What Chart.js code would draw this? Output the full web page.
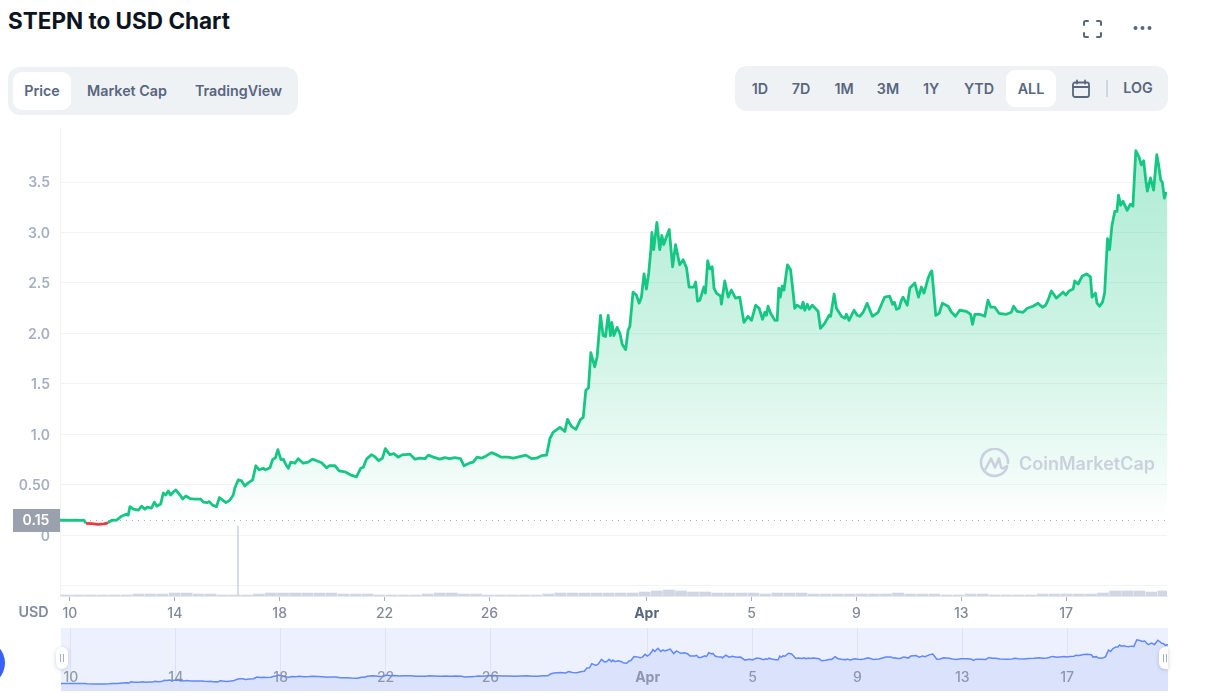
<!DOCTYPE html>
<html>
<head>
<meta charset="utf-8">
<title>STEPN to USD Chart</title>
<script src="https://cdn.jsdelivr.net/npm/chart.js@4/dist/chart.umd.min.js"></script>
<style>
    html, body { margin: 0; padding: 0; background: #fff; width: 1208px; height: 699px; overflow: hidden; }
    body { position: relative; font-family: Inter, "Noto Sans", sans-serif; color: #58667e; }
    .abs { position: absolute; }
    canvas { position: absolute; display: block; }
    h1 { position: absolute; left: 8px; top: 7px; margin: 0; font-size: 22.5px; line-height: 28px; font-weight: 700; color: #0d1421; white-space: nowrap; }
    .group { position: absolute; background: #eff2f5; border-radius: 12px; }
    .pill { position: absolute; background: #fff; border-radius: 9px; }
    .btn { position: absolute; font-size: 14.3px; font-weight: 600; line-height: 20px; transform: translateX(-50%); white-space: nowrap; }
    .mark { position: absolute; left: 1019px; top: 452px; font-size: 18px; line-height: 24px; font-weight: 600; color: #c9d1df; white-space: nowrap; }
    .handle { position: absolute; top: 647px; height: 22px; background: #fff; box-shadow: 0 1px 4px rgba(88,102,126,.3); }
    .handle i { position: absolute; top: 7px; width: 1px; height: 8px; background: #a6b0c3; }
</style>
</head>
<body>
<h1>STEPN to USD Chart</h1>

<svg class="abs" style="left:1082px;top:19px" width="21" height="20" viewBox="0 0 21 20" fill="none" stroke="#58667e" stroke-width="2" stroke-linecap="round" stroke-linejoin="round">
    <path d="M2 6V3.5A1.5 1.5 0 0 1 3.500 2H6M15 2h2.500A1.500 1.500 0 0 1 19 3.500V6M19 14v2.500a1.500 1.500 0 0 1-1.500 1.500H15M6 18H3.500A1.500 1.500 0 0 1 2 16.500V14"/>
</svg>
<svg class="abs" style="left:1132px;top:25px" width="21" height="6" viewBox="0 0 21 6" fill="#58667e">
    <circle cx="3.500" cy="3" r="2"/><circle cx="10.500" cy="3" r="2"/><circle cx="17.500" cy="3" r="2"/>
</svg>

<div class="group" style="left:8px;top:67px;width:290px;height:48px"></div>
<div class="pill" style="left:13px;top:72px;width:58px;height:38px"></div>
<div class="btn" style="left:42px;top:81px">Price</div>
<div class="btn" style="left:127px;top:81px">Market Cap</div>
<div class="btn" style="left:238.500px;top:81px">TradingView</div>

<div class="group" style="left:735px;top:66px;width:433px;height:45px"></div>
<div class="pill" style="left:1006px;top:70px;width:50px;height:37px"></div>
<div class="btn" style="left:760px;top:79px">1D</div>
<div class="btn" style="left:801px;top:79px">7D</div>
<div class="btn" style="left:844px;top:79px">1M</div>
<div class="btn" style="left:888px;top:79px">3M</div>
<div class="btn" style="left:931px;top:79px">1Y</div>
<div class="btn" style="left:979px;top:79px">YTD</div>
<div class="btn" style="left:1031px;top:79px">ALL</div>
<svg class="abs" style="left:1071px;top:79px" width="20" height="20" viewBox="0 0 20 20" fill="none" stroke="#58667e" stroke-width="1.800" stroke-linecap="round">
    <rect x="2" y="3.500" width="16" height="14.500" rx="2"/><path d="M2 8h16M6 1.500v3M14 1.500v3"/>
</svg>
<div class="abs" style="left:1106px;top:80px;width:2px;height:17px;background:#cfd6e4"></div>
<div class="btn" style="left:1138px;top:78px">LOG</div>

<canvas id="priceChart" width="1208" height="504" style="left:0;top:120px;width:1208px;height:504px"></canvas>

<svg class="abs" style="left:979px;top:448px" width="31" height="31" viewBox="0 0 31 31" fill="none" stroke="#c9d1df" stroke-width="2.600" stroke-linecap="round" stroke-linejoin="round">
    <path d="M28 19.500A13.500 13.500 0 1 1 29 15"/>
    <path d="M6.500 21 12 10.500l4 9 4-9 2 8.500q.5 2 3 1l3-2"/>
</svg>
<div class="mark">CoinMarketCap</div>

<div class="btn" style="left:33.500px;top:602px;color:#808a9d">USD</div>

<canvas id="overviewChart" width="1107" height="63" style="left:61px;top:628px;width:1107px;height:63px;background:#edf1fe"></canvas>
<div class="handle" style="left:56px;width:12px;border-radius:6px"><i style="left:4px"></i><i style="left:7px"></i></div>
<div class="handle" style="left:1159px;width:9px;border-radius:6px 0 0 6px"><i style="left:4px"></i><i style="left:7px"></i></div>
<div class="abs" style="left:-41px;top:640px;width:46px;height:46px;border-radius:50%;background:#3861fb"></div>

<script>
    // x is days counted from 10 March
    const days = [
        -0.38, -0.19, 0, 0.19, 0.38, 0.53, 0.61, 0.84, 1.07, 1.3, 1.45, 1.6,
        1.78, 1.97, 2.14, 2.22, 2.29, 2.42, 2.61, 2.73, 2.86, 2.95, 3.11, 3.22, 3.31, 3.46, 3.56, 3.65, 3.75, 3.84, 3.94, 4.04,
        4.2, 4.3, 4.42, 4.58, 4.77, 4.98, 5.09, 5.24, 5.31, 5.44, 5.59, 5.7, 5.85, 5.95, 6.1, 6.23, 6.29, 6.42, 6.55, 6.67,
        6.8, 6.97, 7.09, 7.22, 7.37, 7.46, 7.63, 7.73, 7.84, 7.93, 8.05, 8.14, 8.24, 8.33, 8.42, 8.58, 8.71, 8.9, 9.09, 9.25,
        9.41, 9.6, 9.79, 9.89, 10.11, 10.27, 10.49, 10.7, 10.93, 11.09, 11.19, 11.31, 11.5, 11.63, 11.78, 11.92, 12.03, 12.2, 12.36, 12.52,
        12.69, 12.81, 12.97, 13.16, 13.35, 13.54, 13.67, 13.86, 14.11, 14.3, 14.49, 14.68, 14.9, 15.03, 15.23, 15.38, 15.53, 15.7, 15.89, 16.08,
        16.27, 16.46, 16.72, 16.91, 17.16, 17.39, 17.61, 17.8, 17.99, 18.18, 18.31, 18.43, 18.69, 18.88, 18.98, 19.13, 19.3, 19.48, 19.58, 19.68,
        19.78, 19.87, 20.02, 20.11, 20.24, 20.34, 20.43, 20.53, 20.62, 20.67, 20.75, 20.87, 20.98, 21.07, 21.2, 21.29, 21.36, 21.48, 21.61, 21.71,
        21.8, 21.9, 21.99, 22.08, 22.16, 22.2, 22.27, 22.39, 22.5, 22.58, 22.65, 22.73, 22.86, 22.99, 23.1, 23.26, 23.39, 23.52, 23.62, 23.8,
        23.87, 23.94, 24.03, 24.18, 24.24, 24.33, 24.41, 24.5, 24.57, 24.66, 24.82, 24.85, 24.98, 25.11, 25.23, 25.39, 25.55, 25.71, 25.87, 26,
        26.16, 26.29, 26.42, 26.51, 26.57, 26.63, 26.73, 26.89, 26.98, 27.04, 27.1, 27.17, 27.24, 27.37, 27.49, 27.56, 27.65, 27.74, 27.9, 27.97,
        28.03, 28.13, 28.2, 28.32, 28.54, 28.63, 28.79, 28.96, 29.02, 29.15, 29.24, 29.43, 29.56, 29.62, 29.72, 29.91, 30.03, 30.13, 30.26, 30.41,
        30.61, 30.83, 30.96, 31.08, 31.27, 31.38, 31.45, 31.53, 31.63, 31.72, 31.78, 31.94, 32.04, 32.23, 32.37, 32.48, 32.58, 32.74, 32.84, 32.88,
        33.03, 33.16, 33.28, 33.5, 33.63, 33.78, 33.94, 34.2, 34.36, 34.43, 34.52, 34.71, 34.9, 35.02, 35.13, 35.28, 35.44, 35.72, 35.91, 36,
        36.13, 36.36, 36.52, 36.74, 36.93, 37.1, 37.22, 37.31, 37.44, 37.63, 37.89, 37.99, 38.11, 38.27, 38.33, 38.46, 38.62, 38.78, 38.93, 38.99,
        39.12, 39.18, 39.28, 39.39, 39.47, 39.58, 39.66, 39.75, 39.86, 39.94, 40, 40.08, 40.17, 40.33, 40.45, 40.55, 40.66, 40.78, 40.87, 40.96,
        41.04, 41.1, 41.22, 41.34, 41.46, 41.53, 41.61, 41.67, 41.75, 41.8, 41.85
    ];
    const prices = [
        0.15, 0.152, 0.149, 0.151, 0.149, 0.15, 0.12, 0.117, 0.11, 0.114, 0.125, 0.15,
        0.152, 0.19, 0.21, 0.2, 0.285, 0.26, 0.25, 0.29, 0.26, 0.28, 0.27, 0.33, 0.29, 0.31, 0.42, 0.4, 0.44, 0.4, 0.43, 0.45,
        0.4, 0.36, 0.39, 0.365, 0.36, 0.36, 0.33, 0.325, 0.335, 0.3, 0.285, 0.375, 0.345, 0.325, 0.35, 0.4, 0.47, 0.55, 0.54, 0.49,
        0.52, 0.55, 0.69, 0.65, 0.665, 0.65, 0.67, 0.75, 0.77, 0.85, 0.75, 0.755, 0.7, 0.665, 0.725, 0.715, 0.76, 0.715, 0.725, 0.755,
        0.74, 0.72, 0.67, 0.69, 0.69, 0.64, 0.63, 0.6, 0.58, 0.665, 0.675, 0.755, 0.8, 0.78, 0.74, 0.765, 0.86, 0.8, 0.81, 0.775,
        0.8, 0.8, 0.805, 0.755, 0.765, 0.76, 0.795, 0.775, 0.755, 0.77, 0.76, 0.77, 0.76, 0.69, 0.715, 0.725, 0.775, 0.765, 0.79, 0.82,
        0.8, 0.775, 0.775, 0.765, 0.78, 0.795, 0.76, 0.765, 0.79, 0.795, 0.96, 1.02, 1.07, 1.03, 1.15, 1.08, 1.05, 1.15, 1.17, 1.44,
        1.46, 1.81, 1.67, 1.77, 2.18, 1.98, 1.97, 2.18, 1.98, 2.11, 1.98, 2.06, 2, 1.89, 1.84, 2.03, 2.07, 2.41, 2.38, 2.3,
        2.36, 2.59, 2.44, 2.6, 2.83, 3, 2.83, 3.1, 2.83, 2.97, 2.88, 2.94, 3.03, 2.66, 2.88, 2.68, 2.73, 2.65, 2.46, 2.46,
        2.51, 2.32, 2.33, 2.46, 2.4, 2.72, 2.64, 2.66, 2.45, 2.4, 2.37, 2.29, 2.52, 2.36, 2.43, 2.35, 2.36, 2.11, 2.17, 2.13,
        2.28, 2.25, 2.14, 2.21, 2.18, 2.27, 2.2, 2.13, 2.13, 2.45, 2.36, 2.47, 2.43, 2.68, 2.63, 2.47, 2.25, 2.28, 2.25, 2.31,
        2.23, 2.29, 2.24, 2.28, 2.22, 2.05, 2.1, 2.18, 2.17, 2.39, 2.25, 2.17, 2.15, 2.19, 2.13, 2.23, 2.18, 2.17, 2.21, 2.3,
        2.17, 2.21, 2.29, 2.36, 2.37, 2.29, 2.31, 2.24, 2.25, 2.33, 2.36, 2.28, 2.45, 2.5, 2.36, 2.46, 2.4, 2.55, 2.61, 2.62,
        2.18, 2.2, 2.3, 2.27, 2.21, 2.17, 2.23, 2.22, 2.19, 2.09, 2.19, 2.19, 2.17, 2.33, 2.26, 2.26, 2.2, 2.19, 2.21, 2.27,
        2.22, 2.21, 2.25, 2.27, 2.3, 2.26, 2.28, 2.33, 2.42, 2.35, 2.41, 2.38, 2.42, 2.44, 2.52, 2.49, 2.57, 2.59, 2.56, 2.36,
        2.4, 2.3, 2.27, 2.31, 2.4, 2.94, 2.83, 3.07, 3.21, 3.21, 3.37, 3.27, 3.31, 3.22, 3.28, 3.26, 3.81, 3.75, 3.67, 3.71,
        3.52, 3.41, 3.54, 3.42, 3.77, 3.67, 3.52, 3.5, 3.34, 3.39, 3.39
    ];

    // reference price shown in the grey tag and the dotted line
    const baselinePrice = 0.148;
    const baselineLabel = "0.15";
    const baselineDays = [-0.38, 41.84];

    const volumeDays = [
        -0.15, 0.31, 0.77, 1.23, 1.69, 2.15, 2.61, 3.07, 3.53, 3.99, 4.45, 4.91, 5.37, 5.83, 6.29, 6.75, 7.21, 7.67, 8.13, 8.59, 9.05, 9.51, 9.97,
        10.43, 10.89, 11.35, 11.81, 12.27, 12.73, 13.19, 13.65, 14.11, 14.57, 15.03, 15.49, 15.95, 16.41, 16.87, 17.33, 17.79, 18.25, 18.71, 19.17,
        19.63, 20.09, 20.55, 21.01, 21.47, 21.93, 22.39, 22.85, 23.31, 23.77, 24.23, 24.69, 25.15, 25.61, 26.07, 26.53, 26.99, 27.45, 27.91, 28.37,
        28.83, 29.29, 29.75, 30.21, 30.67, 31.13, 31.59, 32.05, 32.51, 32.97, 33.43, 33.89, 34.35, 34.81, 35.27, 35.73, 36.19, 36.65, 37.11, 37.57,
        38.03, 38.49, 38.95, 39.41, 39.87, 40.33, 40.79, 41.25, 41.71
    ];
    const volumes = [
        1, 1, 1, 1, 1, 1, 2, 2, 2, 3, 3, 2, 2, 1, 1, 1, 2, 3, 3, 3, 3, 3, 3,
        2, 2, 2, 1, 1, 1, 1, 2, 3, 3, 2, 2, 1, 1, 1, 1, 1, 2, 3, 3,
        3, 3, 3, 3, 3, 4, 5, 6, 5, 4, 4, 3, 3, 3, 3, 2, 3, 3, 3, 2,
        2, 2, 2, 2, 2, 2, 3, 2, 2, 2, 1, 1, 2, 2, 1, 1, 1, 1, 2, 2,
        2, 2, 2, 3, 5, 5, 5, 4, 5
    ];
    // the one very thin, very tall volume reading
    const spikeDays = [6.41];
    const spikeVolumes = [70];

    const tickDays = [0, 4, 8, 12, 16, 22, 26, 30, 34, 38];
    const tickLabels = ["10", "14", "18", "22", "26", "Apr", "5", "9", "13", "17"];
    const priceTicks = [-0.5, 0, 0.5, 1, 1.5, 2, 2.5, 3, 3.5];
    const priceTickLabels = ["", "0", "0.50", "1.0", "1.5", "2.0", "2.5", "3.0", "3.5"];

    const pricePoints = days.map((d, i) => ({ x: d, y: prices[i] }));
    const xMin = days[0];
    const xMax = days[days.length - 1];

    function setXTicks(axis) {
        axis.ticks = tickDays.map(v => ({ value: v }));
    }

    // green wash under the line, fading out at the baseline
    function areaFill(ctx) {
        const chart = ctx.chart;
        if (!chart.chartArea) return "transparent";
        const y = chart.scales.y;
        const g = chart.ctx.createLinearGradient(0, y.getPixelForValue(4), 0, y.getPixelForValue(baselinePrice));
        g.addColorStop(0, "rgba(22,199,132,0.36)");
        g.addColorStop(0.5, "rgba(22,199,132,0.22)");
        g.addColorStop(0.85, "rgba(22,199,132,0.08)");
        g.addColorStop(1, "rgba(22,199,132,0)");
        return g;
    }

    const baselineTag = {
        id: "baselineTag",
        afterDraw(chart) {
            const c = chart.ctx;
            const y = chart.scales.y.getPixelForValue(baselinePrice);
            c.save();
            c.fillStyle = "#9aa1ad";
            c.fillRect(13, y - 11.5, 47, 23);
            c.fillStyle = "#fff";
            c.font = "600 14px Inter";
            c.textAlign = "center";
            c.textBaseline = "middle";
            c.fillText(baselineLabel, 36, y);
            c.restore();
        }
    };

    new Chart(document.getElementById("priceChart"), {
        type: "line",
        data: {
            datasets: [
                {
                    data: pricePoints,
                    borderColor: "#16c784",
                    borderWidth: 2.8,
                    borderJoinStyle: "round",
                    pointRadius: 0,
                    tension: 0,
                    backgroundColor: areaFill,
                    fill: { target: { value: baselinePrice }, below: "transparent" },
                    segment: {
                        borderColor: s => (s.p0.parsed.y < baselinePrice && s.p1.parsed.y < baselinePrice ? "#ea3943" : undefined)
                    },
                    order: 1
                },
                {
                    data: baselineDays.map(d => ({ x: d, y: baselinePrice })),
                    borderColor: "#a6b0c3",
                    borderWidth: 1,
                    borderDash: [1, 5],
                    pointRadius: 0,
                    fill: false,
                    order: 2
                },
                {
                    type: "bar",
                    data: volumeDays.map((d, i) => ({ x: d, y: volumes[i] })),
                    yAxisID: "v",
                    backgroundColor: "#cfd6e4",
                    barThickness: 11,
                    grouped: false,
                    order: 3
                },
                {
                    type: "bar",
                    data: spikeDays.map((d, i) => ({ x: d, y: spikeVolumes[i] })),
                    yAxisID: "v",
                    backgroundColor: "#cfd6e4",
                    barThickness: 1,
                    grouped: false,
                    order: 3
                }
            ]
        },
        options: {
            responsive: false,
            animation: false,
            events: [],
            layout: { padding: { top: 8, right: 41, left: 0, bottom: 0 } },
            plugins: { legend: { display: false }, tooltip: { enabled: false } },
            scales: {
                x: {
                    type: "linear",
                    min: xMin,
                    max: xMax,
                    offset: false,
                    afterBuildTicks: setXTicks,
                    afterFit: axis => { axis.height = 28; },
                    border: { display: true, color: "#e6e9f0" },
                    // bar datasets switch grid.offset on for this axis, tick marks must sit on the dates
                    grid: { offset: false, drawOnChartArea: false, drawTicks: true, tickLength: 5, color: "#a6b0c3" },
                    ticks: {
                        autoSkip: false,
                        maxRotation: 0,
                        padding: 4,
                        callback: (v, i) => tickLabels[i],
                        color: ctx => (tickLabels[ctx.index] === "Apr" ? "#58667e" : "#808a9d"),
                        font: ctx => ({ family: "Inter", size: 14, weight: tickLabels[ctx.index] === "Apr" ? "700" : "500" })
                    }
                },
                y: {
                    min: -0.6,
                    max: 4.035,
                    afterBuildTicks: axis => { axis.ticks = priceTicks.map(v => ({ value: v })); },
                    afterFit: axis => { axis.width = 60; axis.paddingTop = 0; axis.paddingBottom = 0; },
                    border: { display: true, color: "#eff2f5" },
                    grid: { color: "#f1f3f6", drawTicks: false },
                    ticks: {
                        autoSkip: false,
                        padding: 10,
                        labelOffset: 1,
                        color: "#a6b0c3",
                        font: { family: "Inter", size: 14, weight: "600" },
                        callback: (v, i) => priceTickLabels[i]
                    }
                },
                v: { display: false, min: 0, max: 468 }
            }
        },
        plugins: [baselineTag]
    });

    new Chart(document.getElementById("overviewChart"), {
        type: "line",
        data: {
            datasets: [{
                data: pricePoints,
                borderColor: "#6188ff",
                borderWidth: 1.5,
                pointRadius: 0,
                tension: 0,
                backgroundColor: "#dbe3fc",
                fill: "start"
            }]
        },
        options: {
            responsive: false,
            animation: false,
            events: [],
            layout: { padding: 0 },
            plugins: { legend: { display: false }, tooltip: { enabled: false } },
            scales: {
                x: {
                    type: "linear",
                    min: xMin,
                    max: xMax,
                    afterBuildTicks: setXTicks,
                    afterFit: axis => { axis.height = 0; axis.paddingLeft = 0; axis.paddingRight = 0; },
                    border: { display: false },
                    grid: { color: "#dde3f4", drawTicks: false },
                    ticks: {
                        autoSkip: false,
                        maxRotation: 0,
                        // mirror stops the labels being clipped to the zero height axis box
                        mirror: true,
                        padding: 5,
                        z: 1,
                        callback: (v, i) => tickLabels[i],
                        color: "rgba(128,138,157,0.85)",
                        font: ctx => ({ family: "Inter", size: 14, weight: tickLabels[ctx.index] === "Apr" ? "700" : "500" })
                    }
                },
                y: { display: false, min: -0.48, max: 4.8 }
            }
        }
    });
</script>
</body>
</html>
